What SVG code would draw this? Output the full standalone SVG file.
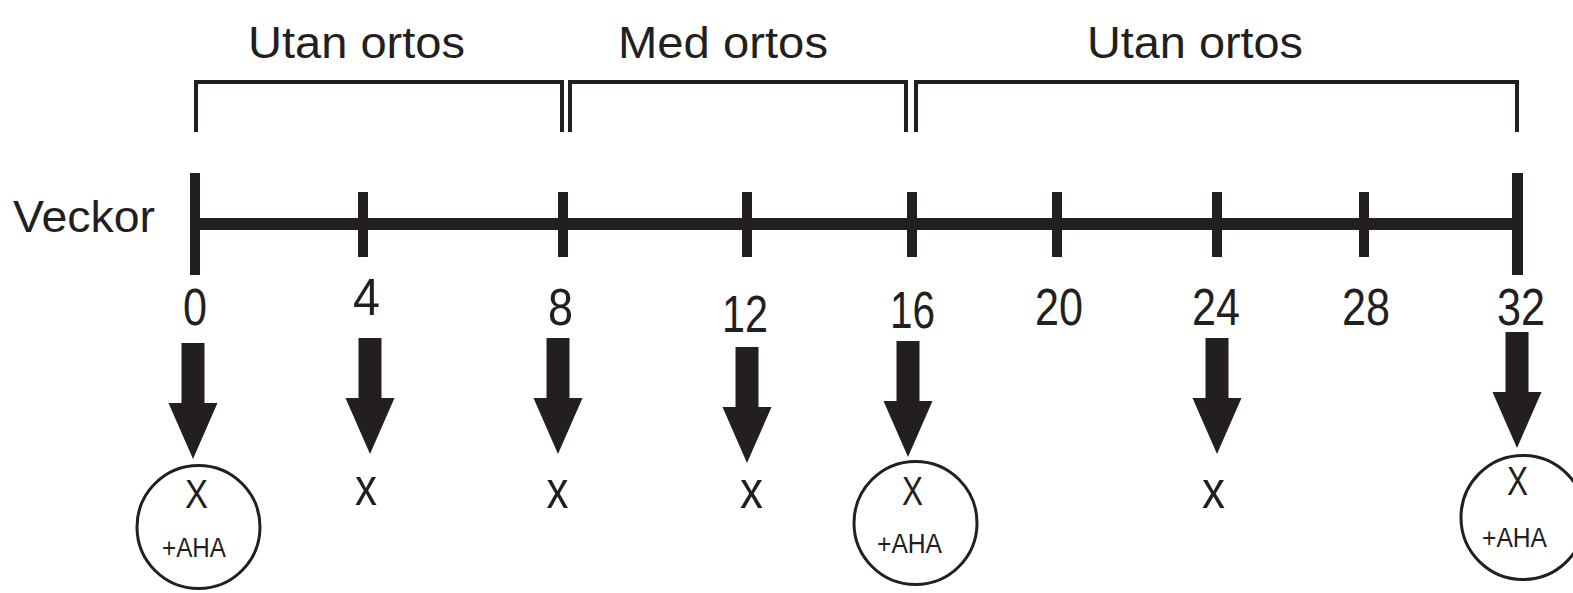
<svg xmlns="http://www.w3.org/2000/svg" width="1573" height="593" viewBox="0 0 1573 593">
<style>
text{font-family:"Liberation Sans",Arial,sans-serif;fill:#231f20}
.lbl{font-size:44px}
.num{font-size:52px;text-anchor:middle}
.x{font-size:40px;text-anchor:middle}
.xs{font-size:54px;text-anchor:middle}
.aha{font-size:27px;text-anchor:middle}
.br{fill:none;stroke:#231f20;stroke-width:4}
.circ{fill:#fff;stroke:#231f20;stroke-width:3}
.tick{fill:#231f20}
.arr{fill:#231f20}
</style>
<defs>
<path id="arrow" d="M-11.5,0 H11.5 V60 H24.5 L0,116 L-24.5,60 H-11.5 Z"/>
</defs>
<rect width="1573" height="593" fill="#fff"/>

<g id="brackets">
<path class="br" d="M196,132 V82 H562 V132"/>
<path class="br" d="M570,132 V82 H906 V132"/>
<path class="br" d="M916,132 V82 H1517 V132"/>
</g>
<g id="period-labels">
<text class="lbl" x="356.5" y="58" text-anchor="middle" textLength="217" lengthAdjust="spacingAndGlyphs">Utan ortos</text>
<text class="lbl" x="723" y="58" text-anchor="middle" textLength="210" lengthAdjust="spacingAndGlyphs">Med ortos</text>
<text class="lbl" x="1195" y="58" text-anchor="middle" textLength="216" lengthAdjust="spacingAndGlyphs">Utan ortos</text>
</g>

<g id="axis">
<text class="lbl" x="13" y="232" textLength="142" lengthAdjust="spacingAndGlyphs">Veckor</text>
<rect class="tick" x="190" y="218" width="1333" height="12"/>
<rect class="tick" x="190" y="173" width="10" height="102"/>
<rect class="tick" x="1512" y="173" width="11" height="102"/>
<rect class="tick" x="358" y="192" width="10" height="65"/>
<rect class="tick" x="558" y="192" width="10" height="65"/>
<rect class="tick" x="742" y="192" width="10" height="65"/>
<rect class="tick" x="907" y="192" width="10" height="65"/>
<rect class="tick" x="1052" y="192" width="10" height="65"/>
<rect class="tick" x="1212" y="192" width="10" height="65"/>
<rect class="tick" x="1359" y="192" width="10" height="65"/>
</g>

<g id="numbers">
<text class="num" x="195" y="325" textLength="24" lengthAdjust="spacingAndGlyphs">0</text>
<text class="num" x="366.5" y="315" textLength="27" lengthAdjust="spacingAndGlyphs">4</text>
<text class="num" x="560.5" y="325" textLength="25" lengthAdjust="spacingAndGlyphs">8</text>
<text class="num" x="745" y="332" textLength="46" lengthAdjust="spacingAndGlyphs">12</text>
<text class="num" x="912.5" y="328" textLength="45" lengthAdjust="spacingAndGlyphs">16</text>
<text class="num" x="1059" y="325" textLength="48" lengthAdjust="spacingAndGlyphs">20</text>
<text class="num" x="1216" y="325" textLength="48" lengthAdjust="spacingAndGlyphs">24</text>
<text class="num" x="1366" y="325" textLength="48" lengthAdjust="spacingAndGlyphs">28</text>
<text class="num" x="1521" y="325" textLength="48" lengthAdjust="spacingAndGlyphs">32</text>
</g>

<g id="connectors">
<use href="#arrow" class="arr" x="193" y="343"/>
<use href="#arrow" class="arr" x="370" y="338"/>
<use href="#arrow" class="arr" x="558" y="338"/>
<use href="#arrow" class="arr" x="747" y="347"/>
<use href="#arrow" class="arr" x="908" y="341"/>
<use href="#arrow" class="arr" x="1217" y="338"/>
<use href="#arrow" class="arr" x="1517" y="332"/>
</g>

<g id="node-w0">
<circle class="circ" cx="198.5" cy="527" r="61.5"/>
<text class="x" x="196.5" y="508" textLength="23" lengthAdjust="spacingAndGlyphs">X</text>
<text class="aha" x="194" y="557" textLength="64" lengthAdjust="spacingAndGlyphs">+AHA</text>
</g>
<g id="node-w4">
<text class="xs" x="366" y="505" textLength="22" lengthAdjust="spacingAndGlyphs">x</text>
</g>
<g id="node-w8">
<text class="xs" x="557.5" y="508" textLength="22" lengthAdjust="spacingAndGlyphs">x</text>
</g>
<g id="node-w12">
<text class="xs" x="751.5" y="508" textLength="23" lengthAdjust="spacingAndGlyphs">x</text>
</g>
<g id="node-w16">
<circle class="circ" cx="915.5" cy="523" r="61.5"/>
<text class="x" x="912.5" y="505" textLength="21" lengthAdjust="spacingAndGlyphs">X</text>
<text class="aha" x="909.5" y="553" textLength="65" lengthAdjust="spacingAndGlyphs">+AHA</text>
</g>
<g id="node-w24">
<text class="xs" x="1213.5" y="508" textLength="23" lengthAdjust="spacingAndGlyphs">x</text>
</g>
<g id="node-w32">
<circle class="circ" cx="1523" cy="517.5" r="62"/>
<text class="x" x="1517.5" y="495" textLength="21" lengthAdjust="spacingAndGlyphs">X</text>
<text class="aha" x="1514.5" y="547" textLength="65" lengthAdjust="spacingAndGlyphs">+AHA</text>
</g>
</svg>
